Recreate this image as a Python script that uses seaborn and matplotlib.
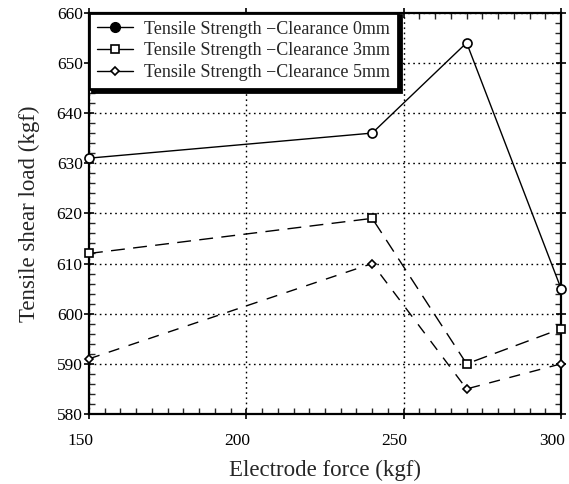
import matplotlib
matplotlib.use("Agg")
import matplotlib.pyplot as plt
import matplotlib.transforms as mtransforms
from matplotlib.lines import Line2D
from matplotlib.ticker import MultipleLocator
import pandas as pd
import seaborn as sns

# Data
force = [150, 240, 270, 300]
load_0mm = [631, 636, 654, 605]
load_3mm = [612, 619, 590, 597]
load_5mm = [591, 610, 585, 590]
labels = ["Tensile Strength \u2212Clearance 0mm",
          "Tensile Strength \u2212Clearance 3mm",
          "Tensile Strength \u2212Clearance 5mm"]
x_ticks = [150, 200, 250, 300]
y_ticks = [580, 590, 600, 610, 620, 630, 640, 650, 660]

df = pd.DataFrame({"force": force, "c0": load_0mm, "c3": load_3mm, "c5": load_5mm})

sns.set_style("ticks")
plt.rcParams["font.family"] = ["Liberation Serif", "DejaVu Serif"]

fig = plt.figure(figsize=(5.69, 4.84), dpi=100)
ax = fig.add_axes([0.1564, 0.1446, 0.8296, 0.8292])

# Draw lines
sns.lineplot(data=df, x="force", y="c0", ax=ax, color="black", linewidth=1.0,
             marker="o", markersize=6.5, sort=False)
sns.lineplot(data=df, x="force", y="c3", ax=ax, color="black", linewidth=1.0,
             linestyle=(0, (10, 6)), marker="s", markersize=6, sort=False)
sns.lineplot(data=df, x="force", y="c5", ax=ax, color="black", linewidth=1.0,
             linestyle=(0, (8, 7)), marker="D", markersize=4.5, sort=False)

for line in ax.lines:
    line.set_markerfacecolor("white")
    line.set_markeredgecolor("black")
    line.set_markeredgewidth(1.2)
    line.set_clip_on(False)
    line.set_zorder(3)

ax.set_xlim(150, 300)
ax.set_ylim(580, 660)
ax.set_xticks(x_ticks)
ax.set_yticks(y_ticks)
ax.xaxis.set_minor_locator(MultipleLocator(5))
ax.yaxis.set_minor_locator(MultipleLocator(2))
ax.tick_params(which="major", direction="inout", length=7, width=1.2,
               top=True, right=True, labelsize=12.5, colors="black")
ax.tick_params(which="minor", direction="in", length=4, width=1.0,
               top=True, right=True)
ax.tick_params(axis="x", which="major", pad=10)
ax.tick_params(axis="y", which="major", pad=1)

for s in ax.spines.values():
    s.set_linewidth(1.6)
    s.set_color("black")

ax.grid(True, which="major", linestyle=(0, (1.2, 2.5)), color="black", linewidth=1.0)

# scanned labels sit a bit left of their ticks
offset = mtransforms.ScaledTranslation(-9 / 100, 0, fig.dpi_scale_trans)
for lab in ax.get_xticklabels():
    lab.set_transform(lab.get_transform() + offset)

ax.set_xlabel("Electrode force (kgf)", fontsize=16.5, labelpad=8)
ax.set_ylabel("Tensile shear load (kgf)", fontsize=16.5, labelpad=12)

handles = [
    Line2D([], [], color="black", lw=1.0, marker="o", markersize=7,
           markerfacecolor="black"),
    Line2D([], [], color="black", lw=1.0, marker="s", markersize=5.5,
           markerfacecolor="white", markeredgewidth=1.2),
    Line2D([], [], color="black", lw=1.0, marker="D", markersize=4.5,
           markerfacecolor="white", markeredgewidth=1.2),
]
leg = ax.legend(handles, labels, loc="upper left", bbox_to_anchor=(0, 1),
                borderaxespad=0, fontsize=13, handlelength=2.0,
                fancybox=False, framealpha=1, edgecolor="black",
                shadow={"color": "black", "alpha": 1},
                labelspacing=0.25, borderpad=0.45, handletextpad=0.6)
leg.get_frame().set_linewidth(2.0)
leg.set_zorder(5)

fig.savefig("out.png", dpi=100)
